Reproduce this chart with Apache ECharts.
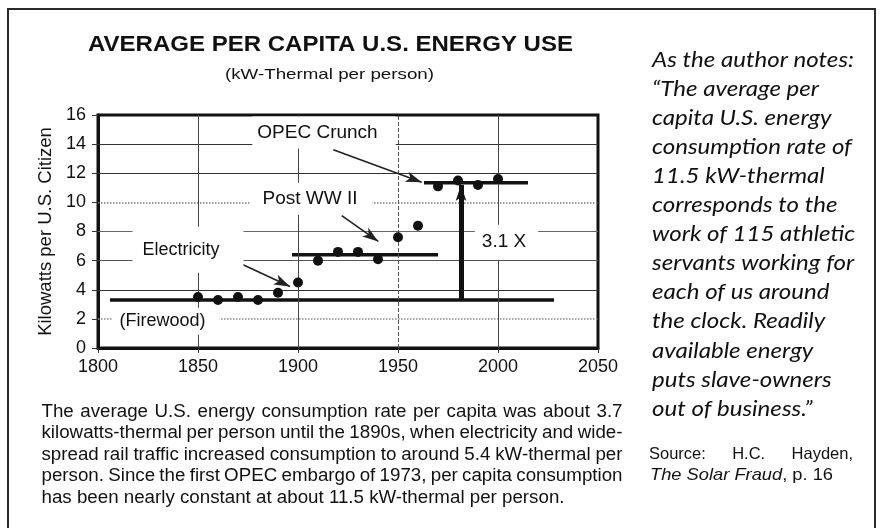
<!DOCTYPE html>
<html>
<head>
<meta charset="utf-8">
<title>Average per capita U.S. energy use</title>
<script src="https://cdn.jsdelivr.net/npm/echarts@6/dist/echarts.min.js"></script>
<style>
  html, body { margin: 0; padding: 0; background: #fff; }
  #chart { width: 881px; height: 528px; }
</style>
</head>
<body>
<div id="chart"></div>
<script>
// Per-capita energy use (kW-thermal per person), one reading per decade
const years = [1850, 1860, 1870, 1880, 1890, 1900, 1910, 1920, 1930, 1940, 1950, 1960, 1970, 1980, 1990, 2000];
const kwPerPerson = [3.5, 3.3, 3.5, 3.3, 3.8, 4.5, 6.0, 6.6, 6.6, 6.1, 7.6, 8.4, 11.1, 11.5, 11.2, 11.6];

// Plateau levels of consumption
const eraStart = [1806, 1897, 1963];
const eraEnd = [2028, 1970, 2015];
const eraLevel = [3.3, 6.4, 11.35];

// Growth arrow from the firewood era up to the OPEC plateau
const growthYear = 1981.5;
const growthFrom = 3.3;
const growthTo = 11.2;

// Axis ticks
const xTicks = [1800, 1850, 1900, 1950, 2000, 2050];
const yTicks = [0, 2, 4, 6, 8, 10, 12, 14, 16];

// Text blocks
const titleText = 'AVERAGE PER CAPITA U.S. ENERGY USE';
const subtitleText = '(kW-Thermal per person)';
const captionLines = [
  'The average U.S. energy consumption rate per capita was about 3.7',
  'kilowatts-thermal per person until the 1890s, when electricity and wide-',
  'spread rail traffic increased consumption to around 5.4 kW-thermal per',
  'person. Since the first OPEC embargo of 1973, per capita consumption',
  'has been nearly constant at about 11.5 kW-thermal per person.'
];
const quoteLines = [
  'As the author notes:',
  '\u201CThe average per',
  'capita U.S. energy',
  'consumption rate of',
  '11.5 kW-thermal',
  'corresponds to the',
  'work of 115 athletic',
  'servants working for',
  'each of us around',
  'the clock. Readily',
  'available energy',
  'puts slave-owners',
  'out of business.\u201D'
];
const sourceLine = 'Source: H.C. Hayden,';
const sourceBook = 'The Solar Fraud';
const sourcePage = ', p. 16';

const SANS = '"Liberation Sans", Arial, Helvetica, sans-serif';
const INK = '#111';

// text measurement for fitting / justifying the text blocks
const measureCtx = document.createElement('canvas').getContext('2d');
function textWidth(text, font) {
  measureCtx.font = font;
  return measureCtx.measureText(text).width;
}

const graphics = [];

// outer frame
graphics.push({
  type: 'rect', silent: true,
  shape: { x: 8, y: 9, width: 867, height: 560 },
  style: { fill: 'none', stroke: '#2a2a2a', lineWidth: 2 }
});

function fittedText(text, font, x, y, width, extra) {
  const s = width / textWidth(text, font);
  graphics.push(Object.assign({
    type: 'text', x: x, y: y, scaleX: s, silent: true,
    style: { text: text, font: font, fill: INK, textVerticalAlign: 'middle', verticalAlign: 'middle' }
  }, extra || {}));
}

// title and subtitle
fittedText(titleText, 'bold 22px ' + SANS, 88, 45, 485);
fittedText(subtitleText, '15px ' + SANS, 225, 75, 209);

// justified paragraph: words placed individually
function justifiedLine(line, font, scale, x0, x1, y, justify) {
  const words = line.split(' ');
  const widths = words.map(w => textWidth(w, font) * scale);
  const total = widths.reduce((a, b) => a + b, 0);
  const gap = justify && words.length > 1
    ? (x1 - x0 - total) / (words.length - 1)
    : textWidth(' ', font) * scale;
  let x = x0;
  words.forEach((w, i) => {
    graphics.push({
      type: 'text', x: x, y: y, scaleX: scale, silent: true,
      style: { text: w, font: font, fill: INK, textVerticalAlign: 'middle', verticalAlign: 'middle' }
    });
    x += widths[i] + gap;
  });
}

const captionFont = '17.5px ' + SANS;
const captionScale = 523 / textWidth(captionLines[4], captionFont);
captionLines.forEach((line, i) => {
  justifiedLine(line, captionFont, captionScale, 41.5, 622.5, 412 + 21.5 * i, i < captionLines.length - 1);
});

// quotation column
const quoteFont = 'italic 21px Lato, "Open Sans", sans-serif';
const quoteScale = 202 / textWidth(quoteLines[0], quoteFont);
quoteLines.forEach((line, i) => {
  graphics.push({
    type: 'text', x: 652, y: 60 + 29.08 * i, scaleX: quoteScale, silent: true,
    style: { text: line, font: quoteFont, fill: INK, textVerticalAlign: 'middle', verticalAlign: 'middle' }
  });
});

// source
justifiedLine(sourceLine, '16.5px ' + SANS, 1, 649, 853, 454, true);
const bookFont = 'italic 16.5px ' + SANS;
const pageFont = '16.5px ' + SANS;
const srcScale = 183 / (textWidth(sourceBook, bookFont) + textWidth(sourcePage, pageFont));
graphics.push({
  type: 'text', x: 650, y: 475, scaleX: srcScale, silent: true,
  style: {
    text: '{b|' + sourceBook + '}{p|' + sourcePage + '}',
    fill: INK, textVerticalAlign: 'middle', verticalAlign: 'middle',
    rich: {
      b: { fontStyle: 'italic', fontSize: 16.5, fontFamily: SANS, fill: INK, color: INK },
      p: { fontSize: 16.5, fontFamily: SANS, fill: INK, color: INK }
    }
  }
});

// gridline styles per value
const hGridStyle = {
  2: { color: '#8a8a8a', width: 1.5, type: 'dotted' },
  4: { color: '#333', width: 1, type: 'solid' },
  6: { color: '#555', width: 1.2, type: 'solid' },
  8: { color: '#666', width: 1.2, type: 'solid' },
  10: { color: '#777', width: 1.5, type: 'dotted' },
  12: { color: '#333', width: 1, type: 'solid' },
  14: { color: '#333', width: 1, type: 'solid' }
};
const vGridStyle = {
  1850: { color: '#444', width: 1, type: 'solid' },
  1900: { color: '#444', width: 1, type: 'solid' },
  1950: { color: '#555', width: 1, type: 'dashed' },
  2000: { color: '#444', width: 1, type: 'solid' }
};

const gridLines = []
  .concat(yTicks.slice(1, -1).map(v => ({ yAxis: v, lineStyle: hGridStyle[v] })))
  .concat(xTicks.slice(1, -1).map(v => ({ xAxis: v, lineStyle: vGridStyle[v] })));

function labelBox(name, coord, padding, fontSize) {
  return {
    name: name, coord: coord,
    label: { padding: padding, fontSize: fontSize || 19 }
  };
}

const option = {
  animation: false,
  backgroundColor: '#fff',
  textStyle: { fontFamily: SANS },
  grid: {
    left: 98, right: 283, top: 115, bottom: 180,
    show: true, borderColor: INK, borderWidth: 3, backgroundColor: 'transparent'
  },
  xAxis: {
    type: 'value', min: xTicks[0], max: xTicks[xTicks.length - 1], interval: 50,
    axisLine: { show: true, lineStyle: { color: INK, width: 3 } },
    axisTick: { show: true, length: 5, lineStyle: { color: '#333', width: 1 } },
    axisLabel: { fontSize: 18, color: INK, margin: 10, fontFamily: SANS, formatter: v => String(v) },
    splitLine: { show: false }
  },
  yAxis: {
    type: 'value', min: yTicks[0], max: yTicks[yTicks.length - 1], interval: 2,
    name: 'Kilowatts per U.S. Citizen',
    nameLocation: 'middle', nameGap: 37,
    nameTextStyle: { fontSize: 18.5, color: INK, fontFamily: SANS },
    axisLine: { show: true, lineStyle: { color: INK, width: 3 } },
    axisTick: { show: true, length: 6, lineStyle: { color: '#333', width: 1 } },
    axisLabel: { fontSize: 18, color: INK, margin: 12, fontFamily: SANS, formatter: v => String(v) },
    splitLine: { show: false }
  },
  graphic: { elements: graphics },
  series: [
    {
      // background gridlines
      type: 'line', data: [], z: 1, silent: true,
      markLine: {
        silent: true, symbol: ['none', 'none'], animation: false,
        label: { show: false },
        data: gridLines
      }
    },
    {
      // annotation labels, white boxes over the gridlines
      type: 'line', data: [], z: 3, silent: true,
      markPoint: {
        silent: true, symbol: 'rect', symbolSize: 1,
        itemStyle: { color: 'rgba(0,0,0,0)' },
        label: {
          show: true, position: 'inside', formatter: p => p.name,
          color: INK, fontFamily: SANS, lineHeight: 20,
          backgroundColor: '#fff'
        },
        data: [
          labelBox('OPEC Crunch', [1913, 14.79], [10, 18, 2, 5]),
          labelBox('Post WW II', [1906.5, 10.25], [9, 15, 3, 13]),
          labelBox('Electricity', [1845, 6.75], [8, 24, 18, 10], 18),
          labelBox('3.1 X', [2004.25, 7.27], [7, 12, 8, 7]),
          labelBox('(Firewood)', [1834, 1.84], [2, 14, 5, 7], 18)
        ]
      }
    }
  ]
    .concat(eraLevel.map((lvl, i) => ({
      type: 'line', z: 4, silent: true, showSymbol: false,
      lineStyle: { color: INK, width: 3.5 },
      data: [[eraStart[i], lvl], [eraEnd[i], lvl]]
    })))
    .concat([
      {
        type: 'scatter', z: 5, silent: true,
        symbolSize: 10,
        itemStyle: { color: INK, opacity: 1 },
        data: years.map((y, i) => [y, kwPerPerson[i]])
      },
      {
        // growth arrow and annotation pointers
        type: 'line', data: [], z: 6, silent: true,
        markLine: {
          silent: true, animation: false,
          symbol: ['none', 'arrow'],
          label: { show: false },
          data: [
            [
              { coord: [growthYear, growthFrom], symbolSize: [17, 16], lineStyle: { color: INK, width: 5, type: 'solid' } },
              { coord: [growthYear, growthTo] }
            ],
            [
              { coord: [1917.65, 13.62], symbolSize: [8, 11], lineStyle: { color: '#222', width: 1.6, type: 'solid' } },
              { coord: [1961.85, 11.38] }
            ],
            [
              { coord: [1921.85, 9.09], symbolSize: [8, 11], lineStyle: { color: '#222', width: 1.6, type: 'solid' } },
              { coord: [1940.15, 7.32] }
            ],
            [
              { coord: [1865, 6.2], symbolSize: [8, 11], lineStyle: { color: '#222', width: 1.6, type: 'solid' } },
              { coord: [1896, 4.23] }
            ]
          ]
        }
      }
    ])
};

const chart = echarts.init(document.getElementById('chart'), null, { renderer: 'canvas' });
chart.setOption(option);
</script>
</body>
</html>
